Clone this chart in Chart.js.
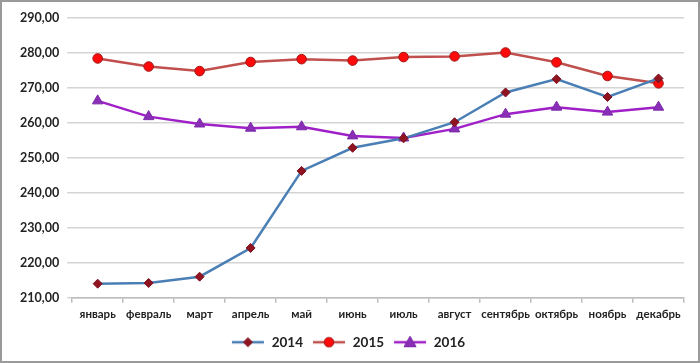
<!DOCTYPE html>
<html>
<head>
<meta charset="utf-8">
<script src="https://cdn.jsdelivr.net/npm/chart.js@4/dist/chart.umd.min.js"></script>
<style>
    html, body { margin: 0; padding: 0; background: #fff; }
    #wrap {
        position: relative;
        width: 696px;
        height: 359px;
        border: 2px solid #9a9a9a;
        background: #fff;
    }
</style>
</head>
<body>
<div id="wrap"><canvas id="chart"></canvas></div>
<script>
const months = ["январь", "февраль", "март", "апрель", "май", "июнь", "июль", "август", "сентябрь", "октябрь", "ноябрь", "декабрь"];
const yearLabels = ["2014", "2015", "2016"];

const values2014 = [214.0, 214.2, 216.0, 224.2, 246.2, 252.8, 255.5, 260.1, 268.6, 272.4, 267.3, 272.6];
const values2015 = [278.3, 276.0, 274.7, 277.3, 278.1, 277.7, 278.7, 278.9, 280.0, 277.2, 273.3, 271.2];
const values2016 = [266.2, 261.7, 259.6, 258.4, 258.8, 256.2, 255.6, 258.2, 262.4, 264.4, 263.0, 264.4];

const yMin = 210;
const yMax = 290;
const yStep = 10;

const yFont = { family: "Lato, 'Open Sans', sans-serif", size: 12.5, weight: "bold" };
const xFont = { family: "Lato, 'Open Sans', sans-serif", size: 11.5, weight: "bold" };

// legend swatch: short line with the marker in the middle
function legendIcon(lineColor, pointStyle, fill, border, r) {
    const c = document.createElement("canvas");
    c.width = 34;
    c.height = 16;
    const g = c.getContext("2d");
    g.strokeStyle = lineColor;
    g.lineWidth = 2.5;
    g.beginPath();
    g.moveTo(1, 8);
    g.lineTo(33, 8);
    g.stroke();
    g.fillStyle = fill;
    g.strokeStyle = border;
    g.lineWidth = 1;
    g.beginPath();
    if (pointStyle === "circle") {
        g.arc(17, 8, r, 0, Math.PI * 2);
    } else if (pointStyle === "rectRot") {
        g.moveTo(17, 8 - r);
        g.lineTo(17 + r, 8);
        g.lineTo(17, 8 + r);
        g.lineTo(17 - r, 8);
        g.closePath();
    } else {
        g.moveTo(17, 8 - r);
        g.lineTo(17 + r, 8 + r * 0.75);
        g.lineTo(17 - r, 8 + r * 0.75);
        g.closePath();
    }
    g.fill();
    g.stroke();
    return c;
}

const styles = [
    { line: "#4a7fb6", style: "rectRot", fill: "#8f1420", border: "#7a1020", r: 4.5 },
    { line: "#c0504d", style: "circle", fill: "#ff0a0a", border: "#a01818", r: 4.8 },
    { line: "#a020c8", style: "triangle", fill: "#8a2eb8", border: "#7a28a8", r: 6 }
];

const series = [values2014, values2015, values2016];

const datasets = series.map((vals, i) => ({
    label: yearLabels[i],
    data: vals,
    borderColor: styles[i].line,
    borderWidth: 2.5,
    pointStyle: styles[i].style,
    pointRadius: styles[i].r,
    pointHoverRadius: styles[i].r,
    pointBackgroundColor: styles[i].fill,
    pointBorderColor: styles[i].border,
    pointBorderWidth: 1,
    tension: 0,
    fill: false
}));

const icons = styles.map(s => legendIcon(s.line, s.style, s.fill, s.border, s.r));

new Chart(document.getElementById("chart"), {
    type: "line",
    data: { labels: months, datasets: datasets },
    options: {
        responsive: true,
        maintainAspectRatio: false,
        animation: false,
        layout: { padding: { left: 10, right: 14, top: 8, bottom: 2 } },
        plugins: {
            tooltip: { enabled: false },
            legend: {
                position: "bottom",
                labels: {
                    usePointStyle: true,
                    pointStyleWidth: 34,
                    color: "#222",
                    font: { family: "Lato, 'Open Sans', sans-serif", size: 13.5, weight: "bold" },
                    padding: 9,
                    generateLabels: chart => chart.data.datasets.map((ds, i) => ({
                        text: ds.label,
                        pointStyle: icons[i],
                        fontColor: "#222",
                        datasetIndex: i,
                        hidden: false,
                        lineWidth: 0
                    }))
                }
            }
        },
        scales: {
            x: {
                offset: true,
                grid: {
                    display: true,
                    offset: true,
                    drawOnChartArea: false,
                    drawTicks: true,
                    tickLength: 5,
                    color: "#bdbdbd",
                    lineWidth: 1.5
                },
                border: { display: true, color: "#bdbdbd", width: 1.5 },
                ticks: { color: "#222", font: xFont, maxRotation: 0, autoSkip: false, padding: 5 }
            },
            y: {
                min: yMin,
                max: yMax,
                grid: {
                    color: "#d4d4d4",
                    lineWidth: 1.5,
                    drawTicks: true,
                    tickLength: 5
                },
                border: { display: false },
                ticks: {
                    stepSize: yStep,
                    color: "#222",
                    font: yFont,
                    padding: 8,
                    callback: v => v.toFixed(2).replace(".", ",")
                }
            }
        }
    }
});
</script>
</body>
</html>
